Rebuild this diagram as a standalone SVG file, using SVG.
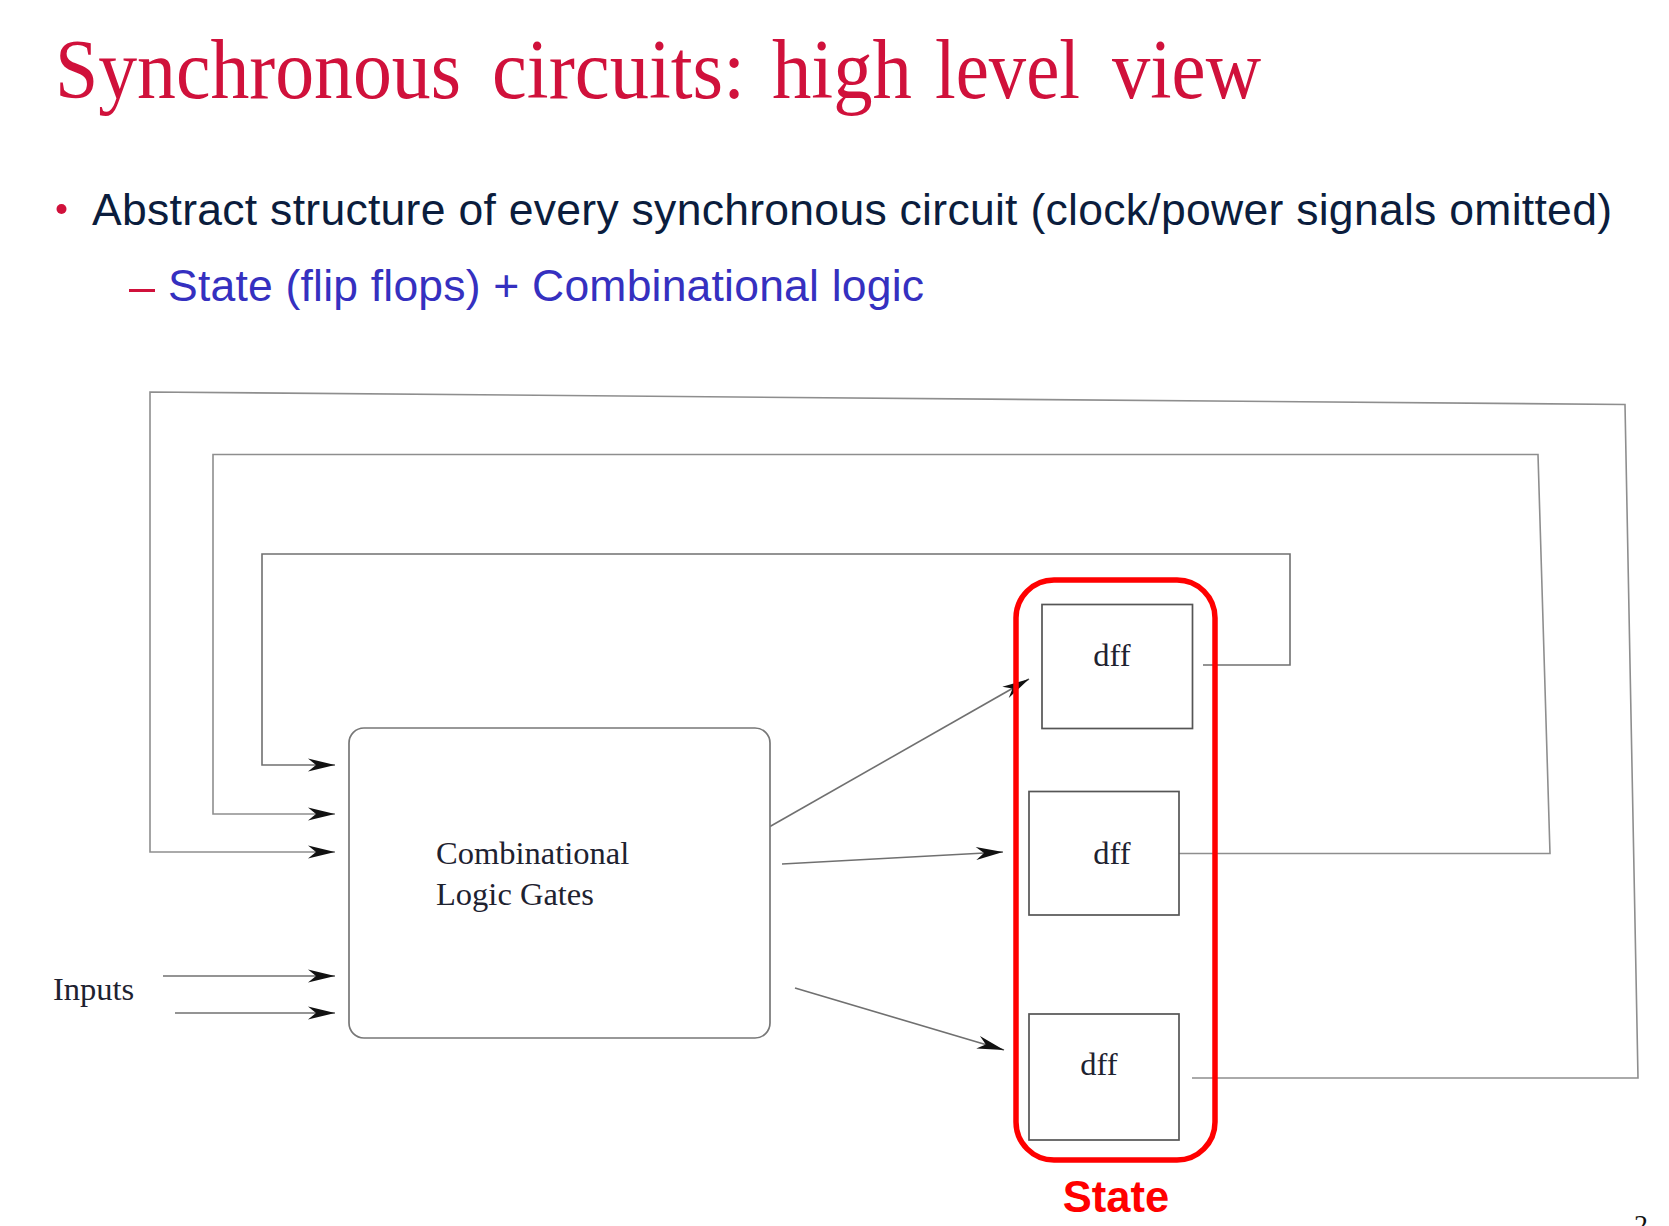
<svg xmlns="http://www.w3.org/2000/svg" width="1669" height="1226" viewBox="0 0 1669 1226">
  <style>
    .title { font-family: "Liberation Serif", "Times New Roman", serif; font-size: 84px; fill: #d0113b; }
    .bullet { font-family: "Liberation Sans", Arial, sans-serif; font-size: 44.5px; fill: #0b1d3d; }
    .sub { font-family: "Liberation Sans", Arial, sans-serif; font-size: 44.5px; fill: #3530c0; }
    .lbl { font-family: "Liberation Serif", "Times New Roman", serif; font-size: 32.5px; fill: #1e2230; }
    .state { font-family: "Liberation Sans", Arial, sans-serif; font-weight: bold; font-size: 43.5px; fill: #ff0000; }
    .wire { fill: none; stroke: #707070; stroke-width: 1.6; }
    .wire-lt { fill: none; stroke: #8e8e8e; stroke-width: 1.6; }
    .box { fill: #ffffff; stroke: #777777; stroke-width: 1.7; }
    .dff { fill: #ffffff; stroke: #555555; stroke-width: 1.7; }
    .group { fill: none; stroke: #ff0000; stroke-width: 5.5; }
  </style>
  <defs>
    <marker id="arrow" markerUnits="userSpaceOnUse" markerWidth="30" markerHeight="16" viewBox="-28 -8 30 16" refX="0" refY="0" orient="auto">
      <path d="M0,0 L-27,-6.5 L-19,0 L-27,6.5 Z" fill="#111111"/>
    </marker>
  </defs>

  <rect width="1669" height="1226" fill="#ffffff"/>

  <!-- heading: words set individually for the wide inter-word gaps -->
  <g class="title">
    <text x="55" y="98" textLength="406" lengthAdjust="spacingAndGlyphs">Synchronous</text>
    <text x="492" y="98" textLength="253" lengthAdjust="spacingAndGlyphs">circuits:</text>
    <text x="772" y="98" textLength="140" lengthAdjust="spacingAndGlyphs">high</text>
    <text x="935" y="98" textLength="145" lengthAdjust="spacingAndGlyphs">level</text>
    <text x="1112" y="98" textLength="149" lengthAdjust="spacingAndGlyphs">view</text>
  </g>

  <!-- bullet text -->
  <circle cx="61.5" cy="209" r="5" fill="#d0113b"/>
  <text class="bullet" x="92" y="225" textLength="1520" lengthAdjust="spacing">Abstract structure of every  synchronous circuit (clock/power signals omitted)</text>
  <line x1="129" y1="290.5" x2="155" y2="290.5" stroke="#d0113b" stroke-width="3"/>
  <text class="sub" x="168" y="301" textLength="756" lengthAdjust="spacing">State (flip flops) + Combinational logic</text>

  <!-- connectors -->
  <g id="connectors">
    <!-- feedback loops from each flip-flop back into the logic block -->
    <polyline class="wire" points="1203,665 1290,665 1290,554 262,554 262,765 335,765" marker-end="url(#arrow)"/>
    <polyline class="wire-lt" points="1179,853.5 1550,853.5 1538,454.5 213,454.5 213,814 335,814" marker-end="url(#arrow)"/>
    <polyline class="wire-lt" points="1192,1078 1638,1078 1625,404.5 150,392 150,852 335,852" marker-end="url(#arrow)"/>
    <!-- primary inputs -->
    <line class="wire" x1="163" y1="976" x2="335" y2="976" marker-end="url(#arrow)"/>
    <line class="wire" x1="175" y1="1013" x2="335" y2="1013" marker-end="url(#arrow)"/>
    <!-- logic outputs into the flip-flops -->
    <line class="wire" x1="770" y1="826.5" x2="1029" y2="679" marker-end="url(#arrow)"/>
    <line class="wire" x1="782" y1="864" x2="1003" y2="852" marker-end="url(#arrow)"/>
    <line class="wire" x1="795" y1="988" x2="1004" y2="1050" marker-end="url(#arrow)"/>
  </g>

  <!-- combinational logic block -->
  <g id="logic">
    <rect class="box" x="349" y="728" width="421" height="310" rx="15" ry="15"/>
    <text class="lbl" x="436" y="864">Combinational</text>
    <text class="lbl" x="436" y="905">Logic Gates</text>
  </g>

  <g id="inputs">
    <text class="lbl" x="53" y="1000">Inputs</text>
  </g>

  <!-- state elements -->
  <g id="dff1">
    <rect class="dff" x="1042" y="604.5" width="150.5" height="124"/>
    <text class="lbl" x="1112" y="666" text-anchor="middle">dff</text>
  </g>
  <g id="dff2">
    <rect class="dff" x="1029" y="791.5" width="150" height="123.5"/>
    <text class="lbl" x="1112" y="864" text-anchor="middle">dff</text>
  </g>
  <g id="dff3">
    <rect class="dff" x="1029" y="1014" width="150" height="126"/>
    <text class="lbl" x="1099" y="1075" text-anchor="middle">dff</text>
  </g>

  <g id="state">
    <rect class="group" x="1016" y="580" width="199" height="580" rx="38" ry="38"/>
    <text class="state" x="1116" y="1212" text-anchor="middle">State</text>
  </g>

  <!-- page number, running off the bottom edge -->
  <text x="1634" y="1234" font-family="Liberation Serif, Times New Roman, serif" font-size="28" fill="#111111">2</text>
</svg>
